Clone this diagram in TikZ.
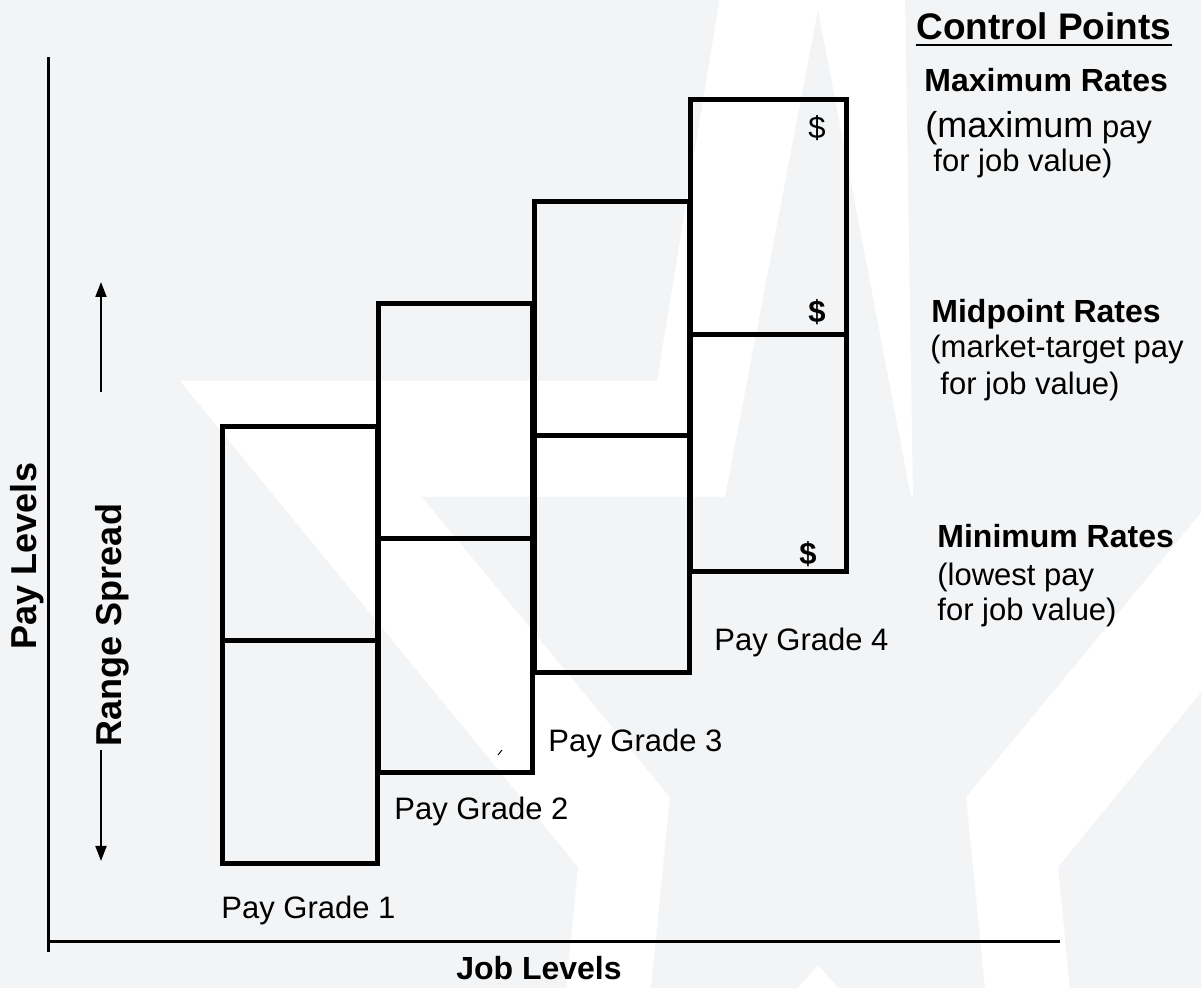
\documentclass[tikz,border=0pt]{standalone}
\usepackage{fontspec}
\setmainfont{Liberation Sans}
\usetikzlibrary{arrows.meta}
\definecolor{bggray}{RGB}{243,244,246}

\begin{document}
\begin{tikzpicture}[x=0.5pt,y=-0.5pt,
  gradebox/.style={draw=black, line width=2.5pt, line join=miter},
  axisline/.style={draw=black, line width=1.5pt},
  spreadarrow/.style={draw=black, line width=0.9pt, -{Triangle[length=7.5pt,width=5.5pt]}},
  gradelabel/.style={anchor=base west, inner sep=0pt, font=\fontsize{15.5}{18}\selectfont},
  ratehead/.style={anchor=base west, inner sep=0pt, font=\fontsize{16}{19}\selectfont\bfseries},
  ratenote/.style={anchor=base west, inner sep=0pt, font=\fontsize{15.5}{18}\selectfont},
  dollar/.style={inner sep=0pt, font=\fontsize{15.5}{18}\selectfont},
  axistitle/.style={inner sep=0pt, font=\fontsize{18}{21}\selectfont\bfseries},
  ]
\useasboundingbox (0,0) rectangle (1201,988);

% pale backdrop with an outlined star watermark
\fill[bggray] (0,0) rectangle (1201,988);
\begin{scope}
  \clip (0,0) rectangle (1201,988);
  \fill[white] (818,-600) -- (979,381) -- (1456,381) -- (1058,867) -- (1100,1300)
    -- (818,1100) -- (536,1300) -- (578,867) -- (180,381) -- (657,381) -- cycle;
  \fill[bggray] (818,10) -- (911,497) -- (1214,497) -- (966,797) -- (1003,1171)
    -- (818,965) -- (633,1171) -- (670,797) -- (422,497) -- (725,497) -- cycle;
  \fill[bggray] (905,-10) -- (913,497) -- (1220,497) -- (1470,381) -- (1470,-10) -- cycle;
\end{scope}

% axes
\coordinate (yaxtop) at (48,57);
\coordinate (yaxbot) at (48,952);
\coordinate (xaxl) at (49,942);
\coordinate (xaxr) at (1060,942);
\draw[axisline] (yaxtop) -- (yaxbot);
\draw[axisline] (xaxl) -- (xaxr);

% pay grade ranges (min / mid / max)
\draw[gradebox] (222,427) rectangle (377,864);
\draw[gradebox] (222,641) -- (377,641);
\draw[gradebox] (378,304) rectangle (532,773);
\draw[gradebox] (378,539) -- (532,539);
\draw[gradebox] (534,202) rectangle (689,673);
\draw[gradebox] (534,436) -- (689,436);
\draw[gradebox] (690,100) rectangle (846,572);
\draw[gradebox] (690,335) -- (846,335);
\draw[line width=0.5pt] (498,755) -- (502,750);

% grade labels
\node[gradelabel] (pg1) at (221,919) {Pay Grade 1};
\node[gradelabel] (pg2) at (394,820) {Pay Grade 2};
\node[gradelabel] (pg3) at (548,752) {Pay Grade 3};
\node[gradelabel] (pg4) at (714,651) {Pay Grade 4};

% control point markers
\node[dollar] (dmax) at (817,128) {\$};
\node[dollar, font=\fontsize{15.5}{18}\selectfont\bfseries] (dmid) at (817,312) {\$};
\node[dollar, font=\fontsize{15.5}{18}\selectfont\bfseries] (dmin) at (808,554) {\$};

% axis titles
\node[axistitle, rotate=90] (payl) at (27,556) {Pay Levels};
\node[axistitle, rotate=90] (range) at (112,625) {Range Spread};
\node[anchor=base, inner sep=0pt, font=\fontsize{16}{19}\selectfont\bfseries] (jobl) at (539,980) {Job Levels};

% range spread arrows
\coordinate (upfrom) at (101,392);
\coordinate (upto) at (101,282);
\coordinate (downfrom) at (101,750);
\coordinate (downto) at (101,861);
\draw[spreadarrow] (upfrom) -- (upto);
\draw[spreadarrow] (downfrom) -- (downto);

% control points legend
\node[anchor=base west, inner sep=0pt, font=\fontsize{18.5}{22}\selectfont\bfseries] (cp) at (916,40) {Control Points};
\draw[line width=1.2pt] ([yshift=-2.4pt]cp.base west) -- ([yshift=-2.4pt]cp.base east);

\node[ratehead] (maxh) at (924,92) {Maximum Rates};
\node[ratenote] (maxn1) at (925,138) {{\fontsize{18}{20}\selectfont(maximum} pay};
\node[ratenote] (maxn2) at (933,172) {for job value)};

\node[ratehead] (midh) at (931,323) {Midpoint Rates};
\node[ratenote] (midn1) at (930,358) {(market-target pay};
\node[ratenote] (midn2) at (940,395) {for job value)};

\node[ratehead] (minh) at (937,548) {Minimum Rates};
\node[ratenote] (minn1) at (937,586) {(lowest pay};
\node[ratenote] (minn2) at (937,621) {for job value)};
\end{tikzpicture}
\end{document}
